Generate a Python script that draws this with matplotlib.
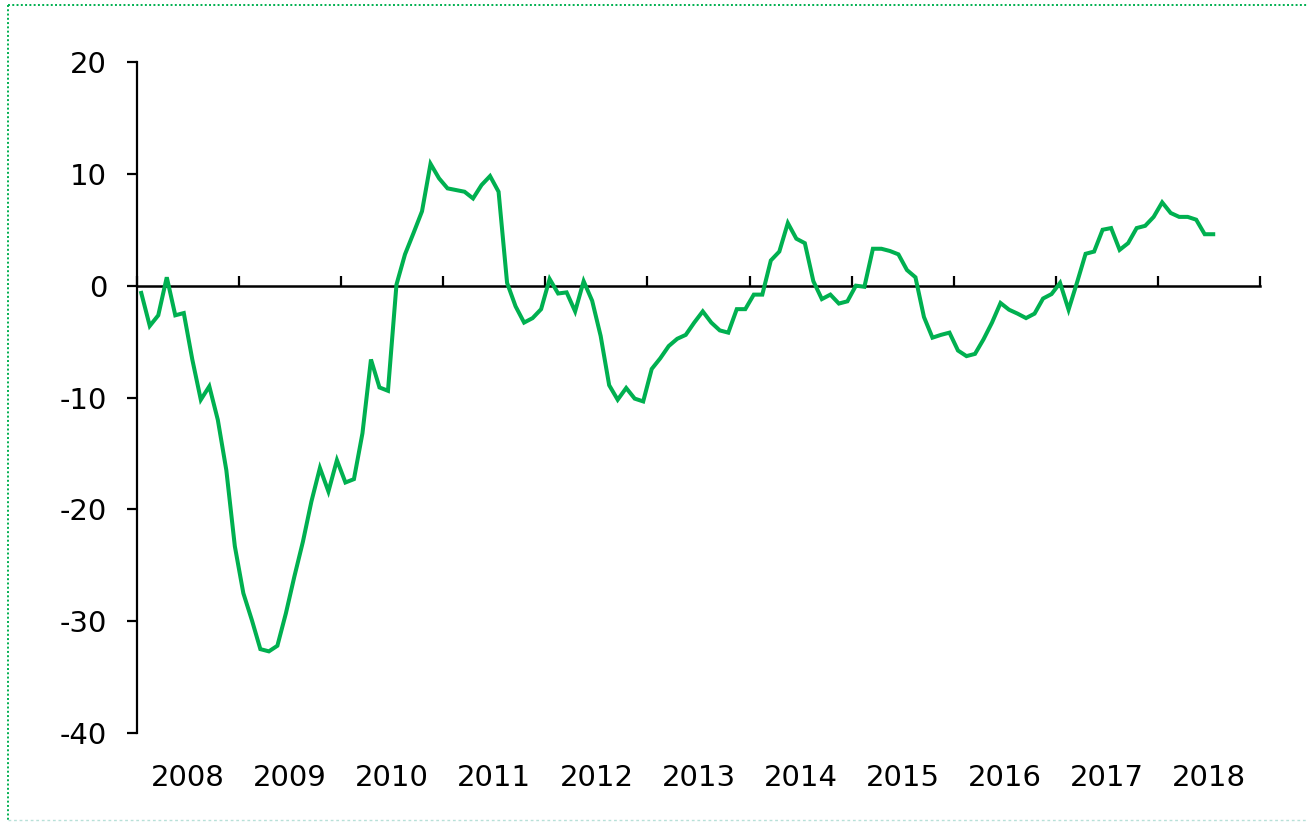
import numpy as np
import matplotlib
matplotlib.use('Agg')
import matplotlib.pyplot as plt
from matplotlib.lines import Line2D

# Serie mensual, desde ene-2008
valores = [
    -0.65, -3.6, -2.65, 0.75, -2.65, -2.45, -6.6, -10.2, -9.0, -12.0,
    -16.5, -23.3, -27.5, -29.9, -32.5, -32.7, -32.2, -29.3, -26.0, -22.9,
    -19.3, -16.3, -18.4, -15.6, -17.6, -17.3, -13.2, -6.6, -9.1, -9.4,
    0.1, 2.8, 4.7, 6.65, 10.9, 9.6, 8.7, 8.55, 8.4, 7.8,
    9.0, 9.8, 8.4, 0.25, -1.85, -3.3, -2.9, -2.1, 0.6, -0.7,
    -0.6, -2.3, 0.4, -1.35, -4.5, -8.9, -10.2, -9.15, -10.1, -10.35,
    -7.45, -6.5, -5.4, -4.75, -4.4, -3.3, -2.3, -3.3, -4.0, -4.2,
    -2.1, -2.1, -0.8, -0.8, 2.25, 3.05, 5.6, 4.2, 3.8, 0.4,
    -1.2, -0.8, -1.6, -1.4, 0.0, -0.1, 3.3, 3.3, 3.1, 2.8,
    1.4, 0.75, -2.8, -4.65, -4.4, -4.2, -5.8, -6.3, -6.1, -4.8,
    -3.3, -1.55, -2.15, -2.5, -2.9, -2.5, -1.15, -0.75, 0.25, -2.15,
    0.3, 2.85, 3.05, 5.0, 5.15, 3.2, 3.8, 5.15, 5.35, 6.15,
    7.45, 6.5, 6.15, 6.15, 5.9, 4.6, 4.6,
]
anios = ['2008', '2009', '2010', '2011', '2012', '2013',
         '2014', '2015', '2016', '2017', '2018']
y_ticks = [20, 10, 0, -10, -20, -30, -40]

verde = '#00B050'
n_meses = 12 * len(anios)
x = np.arange(len(valores))

fig = plt.figure(figsize=(13.07, 8.22), dpi=100)
ax = fig.add_axes([137/1307, 1 - 733/822, (1260-137)/1307, (733-62)/822])

ax.plot(x, valores, color=verde, lw=2.9, solid_joinstyle='miter')

ax.set_xlim(-0.5, n_meses - 0.5)
ax.set_ylim(-40, 20)

# eje y
ax.set_yticks(y_ticks)
ax.set_yticklabels([str(v) for v in y_ticks])
ax.tick_params(axis='y', direction='out', length=7.5, width=1.6, pad=14, labelsize=21)
ax.spines['left'].set_linewidth(1.6)
for s in ['top', 'right', 'bottom']:
    ax.spines[s].set_visible(False)

# etiquetas de años centradas en cada año
ax.set_xticks(np.arange(len(anios)) * 12 + 5.5)
ax.set_xticklabels(anios)
ax.tick_params(axis='x', length=0, pad=22, labelsize=21)

# linea del cero con marcas entre años
sec = ax.secondary_xaxis(2/3)
sec.set_xticks(np.arange(len(anios) + 1) * 12 - 0.5)
sec.set_xticklabels([])
sec.tick_params(axis='x', direction='out', length=7.5, width=1.6)
for sp in sec.spines.values():
    sp.set_linewidth(1.8)

# borde punteado
fig.add_artist(Line2D([8/1307, 1], [1 - 5/822, 1 - 5/822], transform=fig.transFigure,
                      color=verde, lw=1.4, ls=(0, (1, 1.2))))
fig.add_artist(Line2D([8/1307, 8/1307], [1 - 5/822, 1 - 820/822], transform=fig.transFigure,
                      color=verde, lw=1.4, ls=(0, (1, 1.2))))
fig.add_artist(Line2D([8/1307, 1], [1 - 820/822, 1 - 820/822], transform=fig.transFigure,
                      color='#B8E0D8', lw=1.0, ls=(0, (2, 2))))

fig.savefig('out.png', dpi=100)
